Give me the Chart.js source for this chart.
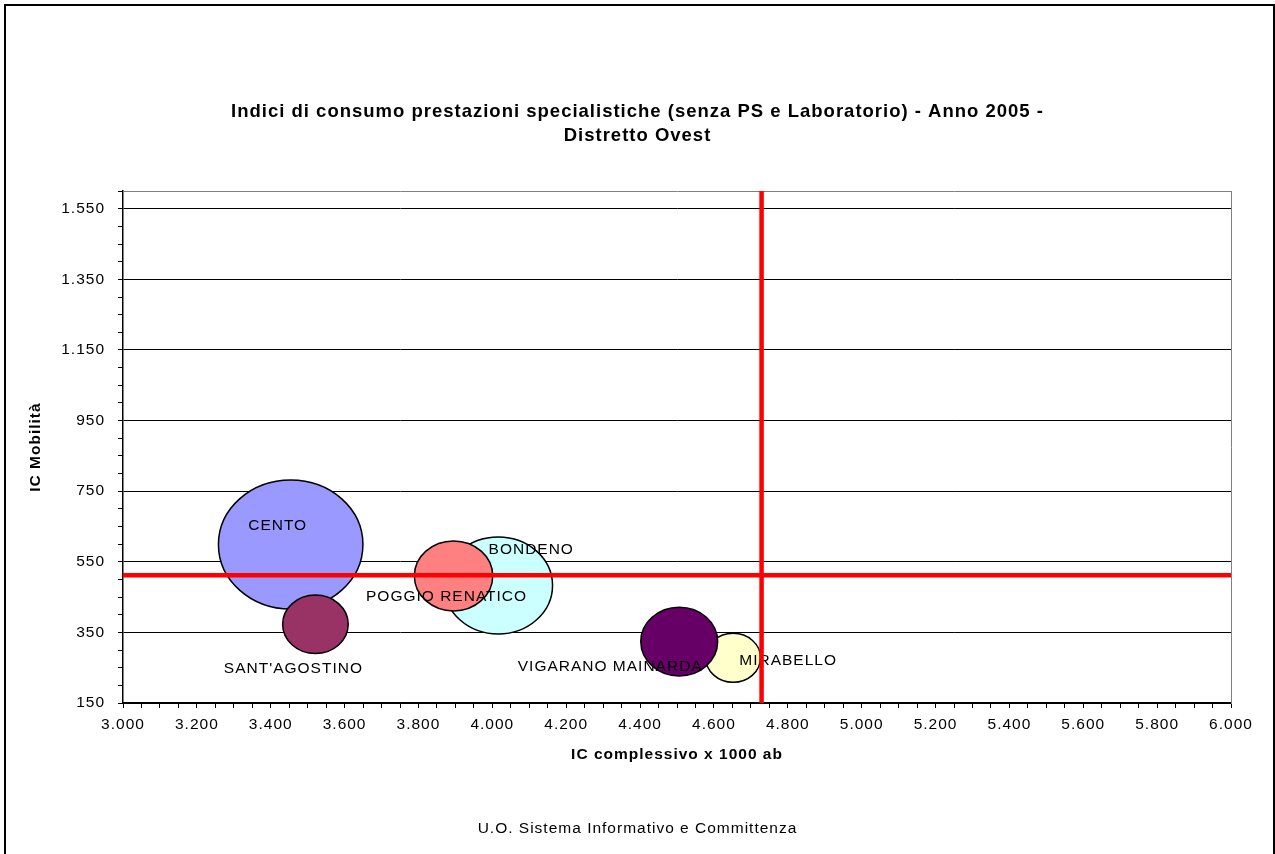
<!DOCTYPE html>
<html lang="it">
<head>
<meta charset="utf-8">
<title>Indici di consumo prestazioni specialistiche - Distretto Ovest</title>
<script src="https://cdn.jsdelivr.net/npm/chart.js@4.4.1/dist/chart.umd.min.js"></script>
<style>
  html, body { margin: 0; padding: 0; background: #fff; overflow: hidden; }
  #cornice { position: absolute; left: 4px; top: 4px; width: 1271px; height: 900px; border: 2px solid #000; box-sizing: border-box; }
  #contenitore { position: absolute; left: 0; top: 0; width: 1275px; height: 854px; }
</style>
</head>
<body>
<div id="cornice"></div>
<div id="contenitore"><canvas id="grafico"></canvas></div>
<script>
// comuni del distretto, nell'ordine in cui vengono disegnate le bolle
const comuni = ['CENTO', "SANT'AGOSTINO", 'BONDENO', 'POGGIO RENATICO', 'MIRABELLO', 'VIGARANO MAINARDA'];
const icComplessivo = [3454, 3521, 4016, 3895, 4652, 4506];
const icMobilita = [599, 373, 483, 510, 278, 324];
const dimensioni = [100, 20.6, 56.5, 29.4, 14.4, 28.3];

// valori medi del distretto (linee rosse)
const mediaComplessivo = 4729;
const mediaMobilita = 512;

const limiteX = [3000, 6000];
const limiteY = [150, 1600];
const ticksX = [3000, 3200, 3400, 3600, 3800, 4000, 4200, 4400, 4600, 4800, 5000, 5200, 5400, 5600, 5800, 6000];
const ticksY = [150, 350, 550, 750, 950, 1150, 1350, 1550];

const coloriComuni = ['#9999FF', '#993366', '#CCFFFF', '#FF8080', '#FFFFCC', '#660066'];
// spostamento delle etichette rispetto al centro della bolla (px)
const posEtichette = [[-13, -19], [-22, 44], [33, -36], [-7, 21], [55, 3], [-69, 25]];

const FONT = "'Liberation Sans', Arial, sans-serif";
const RAGGIO_MAX = 64.5;
const ASPETTO = 1.12;
const maxDim = Math.max(...dimensioni);

Chart.defaults.font.family = FONT;
Chart.defaults.font.size = 15.5;
Chart.defaults.color = '#000';

const formatta = v => String(v).replace(/\B(?=(\d{3})+(?!\d))/g, '.');

// leggera spaziatura tra i caratteri su tutti i testi
const spaziatura = {
  id: 'spaziatura',
  afterInit(chart) { chart.ctx.letterSpacing = '1px'; },
  beforeUpdate(chart) { chart.ctx.letterSpacing = '1px'; },
  beforeDraw(chart) { chart.ctx.letterSpacing = '1px'; }
};

// bolle ellittiche con nome del comune
const bolle = {
  id: 'bolle',
  beforeDatasetDraw(chart, args) {
    if (args.meta.type !== 'bubble') return;
    const ctx = chart.ctx;
    const punti = args.meta.data;
    ctx.save();
    punti.forEach(p => {
      const o = p.options;
      ctx.beginPath();
      ctx.ellipse(p.x, p.y, o.radius * ASPETTO, o.radius, 0, 0, Math.PI * 2);
      ctx.fillStyle = o.backgroundColor;
      ctx.fill();
      ctx.lineWidth = o.borderWidth;
      ctx.strokeStyle = o.borderColor;
      ctx.stroke();
    });
    ctx.font = '15.5px ' + FONT;
    ctx.fillStyle = '#000';
    ctx.textAlign = 'center';
    ctx.textBaseline = 'middle';
    punti.forEach((p, i) => {
      const [dx, dy] = posEtichette[i];
      ctx.fillText(comuni[i], p.x + dx, p.y + dy);
    });
    ctx.restore();
    return false;
  }
};

new Chart(document.getElementById('grafico'), {
  type: 'bubble',
  data: {
    datasets: [
      {
        data: comuni.map((c, i) => ({
          x: icComplessivo[i],
          y: icMobilita[i],
          r: RAGGIO_MAX * Math.sqrt(dimensioni[i] / maxDim)
        })),
        backgroundColor: coloriComuni,
        borderColor: '#000',
        borderWidth: 1.5,
        order: 1,
        xAxisID: 'x',
        yAxisID: 'y'
      },
      {
        type: 'scatter',
        showLine: true,
        data: [{ x: mediaComplessivo, y: limiteY[0] }, { x: mediaComplessivo, y: limiteY[1] }],
        borderColor: '#FF0000',
        borderWidth: 4.5,
        pointRadius: 0,
        order: 0,
        xAxisID: 'x',
        yAxisID: 'y'
      },
      {
        type: 'scatter',
        showLine: true,
        data: [{ x: limiteX[0], y: mediaMobilita }, { x: limiteX[1], y: mediaMobilita }],
        borderColor: '#FF0000',
        borderWidth: 4.5,
        pointRadius: 0,
        order: 0,
        xAxisID: 'x',
        yAxisID: 'y'
      }
    ]
  },
  options: {
    responsive: true,
    maintainAspectRatio: false,
    animation: false,
    events: [],
    layout: { padding: 0, autoPadding: false },
    scales: {
      x: {
        type: 'linear',
        position: 'bottom',
        min: limiteX[0],
        max: limiteX[1],
        ticks: {
          stepSize: 50,
          autoSkip: false,
          maxRotation: 0,
          padding: 7,
          callback: v => ticksX.includes(v) ? formatta(v) : ''
        },
        grid: { drawOnChartArea: false, tickLength: 5, tickColor: '#000' },
        border: { color: '#000', width: 1.5 },
        title: {
          display: true,
          text: 'IC complessivo x 1000 ab',
          font: { weight: 'bold' },
          padding: { top: 0, bottom: 9 }
        },
        afterFit: s => { s.height = 70; }
      },
      y: {
        type: 'linear',
        position: 'left',
        min: limiteY[0],
        max: limiteY[1],
        ticks: {
          stepSize: 50,
          autoSkip: false,
          padding: 13,
          callback: v => ticksY.includes(v) ? formatta(v) : ''
        },
        grid: {
          color: c => (c.tick && ticksY.includes(c.tick.value)) ? '#000' : 'rgba(0,0,0,0)',
          tickLength: 5,
          tickColor: '#000'
        },
        border: { color: '#000', width: 1.5 },
        title: {
          display: true,
          text: 'IC Mobilità',
          font: { weight: 'bold' },
          padding: { top: 26, bottom: 0 }
        },
        afterFit: s => { s.width = 123; }
      },
      x2: {
        type: 'linear',
        position: 'top',
        ticks: { display: false },
        grid: { drawOnChartArea: false, drawTicks: false },
        border: { color: '#808080', width: 1 },
        afterFit: s => { s.height = 0; }
      },
      y2: {
        type: 'linear',
        position: 'right',
        ticks: { display: false },
        grid: { drawOnChartArea: false, drawTicks: false },
        border: { color: '#808080', width: 1 },
        afterFit: s => { s.width = 44; }
      }
    },
    plugins: {
      legend: { display: false },
      tooltip: { enabled: false },
      title: {
        display: true,
        text: [
          'Indici di consumo prestazioni specialistiche (senza PS e Laboratorio) - Anno 2005 -',
          'Distretto Ovest'
        ],
        font: { size: 18.5, weight: 'bold', lineHeight: 1.3 },
        color: '#000',
        padding: { top: 99.5, bottom: 43.5 }
      },
      subtitle: {
        display: true,
        position: 'bottom',
        text: 'U.O. Sistema Informativo e Committenza',
        font: { size: 15.5, weight: 'normal' },
        color: '#000',
        padding: { top: 46.7, bottom: 15.7 }
      }
    }
  },
  plugins: [spaziatura, bolle]
});
</script>
</body>
</html>
